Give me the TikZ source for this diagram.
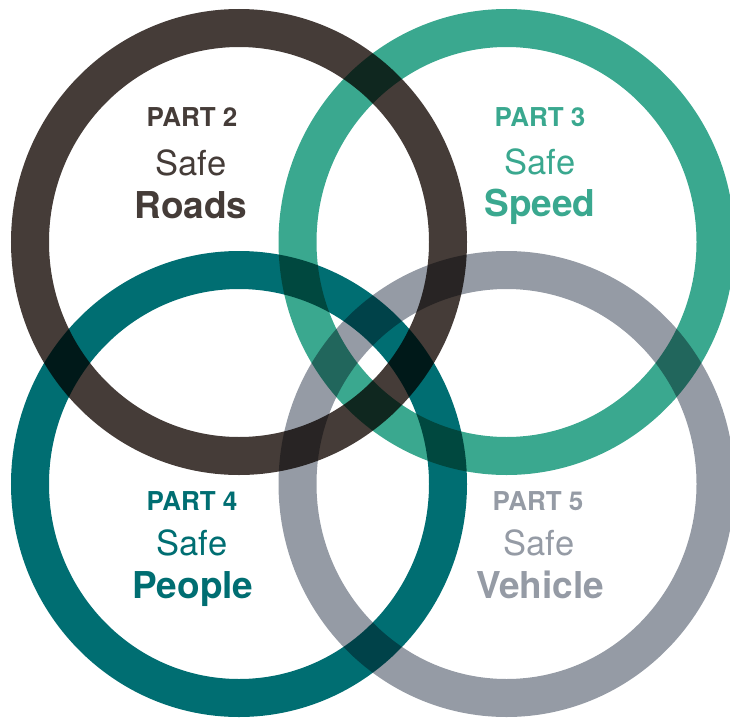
\documentclass[tikz,border=0pt]{standalone}
\usepackage{fontspec}
\setmainfont{TeX Gyre Heros}
\definecolor{roads}{HTML}{453C38}
\definecolor{speed}{HTML}{3AA88F}
\definecolor{people}{HTML}{006E72}
\definecolor{vehicle}{HTML}{959BA5}
\tikzset{
  ring/.style={line width=38pt},
  parttxt/.style={font=\fontsize{26}{30}\selectfont\bfseries, anchor=base, inner sep=0pt},
  safetxt/.style={font=\fontsize{34.5}{40}\selectfont, anchor=base, inner sep=0pt},
  wordtxt/.style={font=\fontsize{37}{42}\selectfont\bfseries, anchor=base, inner sep=0pt}
}
\begin{document}
\begin{tikzpicture}[x=1pt,y=-1pt]
\useasboundingbox (0,0) rectangle (730,717);
\begin{scope}[blend group=multiply]
  \draw[ring, roads]   (239,242)   ellipse [x radius=209pt, y radius=214pt];
  \draw[ring, speed]   (506.5,242) ellipse [x radius=209pt, y radius=214pt];
  \draw[ring, people]  (239,484)   ellipse [x radius=209pt, y radius=214pt];
  \draw[ring, vehicle] (506.5,484) ellipse [x radius=209pt, y radius=214pt];
\end{scope}
\node[parttxt, text=roads] (p2) at (192,126) {PART 2};
\node[safetxt, text=roads] (s2) at (191,175) {Safe};
\node[wordtxt, text=roads] (w2) at (191,218) {Roads};
\node[parttxt, text=speed] (p3) at (540,126) {PART 3};
\node[safetxt, text=speed] (s3) at (540,174) {Safe};
\node[wordtxt, text=speed] (w3) at (540,216) {Speed};
\node[parttxt, text=people] (p4) at (192,510) {PART 4};
\node[safetxt, text=people] (s4) at (192,555) {Safe};
\node[wordtxt, text=people] (w4) at (193,598) {People};
\node[parttxt, text=vehicle] (p5) at (538,510) {PART 5};
\node[safetxt, text=vehicle] (s5) at (539,555) {Safe};
\node[wordtxt, text=vehicle] (w5) at (540,598) {Vehicle};
\end{tikzpicture}
\end{document}
